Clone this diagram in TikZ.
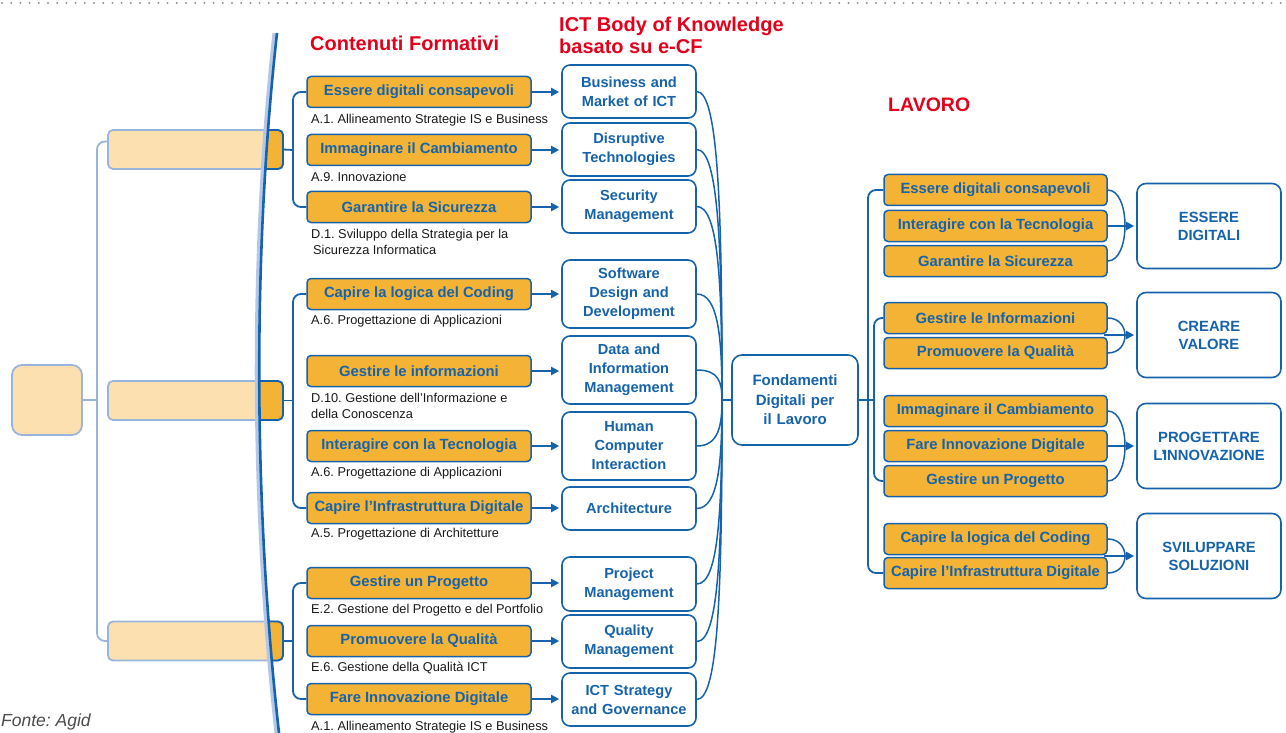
\documentclass[tikz,border=0pt]{standalone}
\usepackage{fontspec}
\setmainfont{Liberation Sans}
\usetikzlibrary{arrows.meta}
\definecolor{dblue}{HTML}{1663AB}
\definecolor{lblue}{HTML}{9BB4DB}
\definecolor{sblue}{HTML}{B3C8E8}
\definecolor{gold}{HTML}{F5B335}
\definecolor{cream}{HTML}{FDE0B0}
\definecolor{ired}{HTML}{E3001B}

\begin{document}
\frenchspacing
\begin{tikzpicture}[x=1pt, y=-1pt,
  link/.style={draw=dblue, line width=1.8pt},
  fan/.style={draw=dblue, line width=1.5pt},
  arr/.style={link, -{Triangle[length=8pt,width=8pt]}, shorten >=2pt},
  pale/.style={draw=lblue, line width=1.8pt},
  sect/.style={draw=lblue, fill=cream, line width=1.8pt, rounded corners=5pt, minimum width=175pt, minimum height=39pt, inner sep=0pt, outer sep=0pt},
  skill/.style={draw=dblue, fill=gold, line width=1.5pt, rounded corners=4pt, minimum width=224pt, minimum height=31pt, inner sep=0pt, text=dblue, font=\fontsize{14.8}{18}\selectfont\bfseries},
  know/.style={draw=dblue, fill=white, line width=1.6pt, rounded corners=8pt, minimum width=134pt, text width=128pt, inner sep=0pt, align=center, text=dblue, font=\fontsize{14.6}{19}\selectfont\bfseries},
  area/.style={draw=dblue, fill=white, line width=1.6pt, rounded corners=9pt, minimum width=144pt, minimum height=85pt, text width=138pt, inner sep=0pt, align=center, text=dblue, font=\fontsize{14.8}{18}\selectfont\bfseries},
  sub/.style={anchor=west, align=left, inner sep=0pt, text=black!90, font=\fontsize{12.8}{16}\selectfont},
  heading/.style={anchor=west, align=left, inner sep=0pt, text=ired, font=\fontsize{20}{22}\selectfont\bfseries}]
  \useasboundingbox (0,0) rectangle (1286,733);
  \draw[gray!85, line width=2.2pt, line cap=round, dash pattern=on 0pt off 9.2pt] (2,3) -- (1286,3);

  \node[heading] (h1) at (310,43) {Contenuti Formativi};
  \node[heading] (h2) at (559,35) {ICT Body of Knowledge\\basato su e-CF};
  \node[heading, font=\fontsize{19.5}{22}\selectfont\bfseries] (h3) at (888,105) {LAVORO};

  \node[draw=lblue, fill=cream, line width=1.8pt, rounded corners=10pt, minimum size=70pt] (root) at (47,400) {};
  \node[sect] (sec1) at (195.5,149.5) {};
  \node[sect] (sec2) at (195.5,400.5) {};
  \node[sect] (sec3) at (195.5,641) {};
  \coordinate (rj) at (97,400);
  \draw[pale] (root.east) -- (rj);
  \draw[pale, rounded corners=8pt] ([yshift=8pt]sec1.west) -| (rj) |- (sec3.west);

  \begin{scope}
    \clip (277,33) .. controls (253,250) and (253,500) .. (279,733) -- (300,733) -- (300,33) -- cycle;
    \foreach \s in {sec1,sec2,sec3}
      \draw[draw=dblue, fill=gold, line width=1.8pt, rounded corners=5pt] (\s.south west) rectangle (\s.north east);
  \end{scope}
  \draw[sblue, line width=4pt, xshift=-2.5pt] (277,33) .. controls (253,250) and (253,500) .. (279,733);
  \draw[dblue, line width=2.6pt] (277,33) .. controls (253,250) and (253,500) .. (279,733);

  \node[skill] (c1) at (419,92) {Essere digitali consapevoli};
  \node[skill] (c2) at (419,150) {Immaginare il Cambiamento};
  \node[skill] (c3) at (419,207) {Garantire la Sicurezza};
  \node[skill] (c4) at (419,294) {Capire la logica del Coding};
  \node[skill] (c5) at (419,371) {Gestire le informazioni};
  \node[skill] (c6) at (419,446) {Interagire con la Tecnologia};
  \node[skill] (c7) at (419,508) {Capire l’Infrastruttura Digitale};
  \node[skill] (c8) at (419,583) {Gestire un Progetto};
  \node[skill] (c9) at (419,641) {Promuovere la Qualità};
  \node[skill] (c10) at (419,699) {Fare Innovazione Digitale};

  \node[sub] (s1) at (311,120) {A.1. Allineamento Strategie IS e Business};
  \node[sub] (s2) at (311,177) {A.9. Innovazione};
  \node[sub] (s3) at (311,242) {D.1. Sviluppo della Strategia per la\\\hspace{2pt}Sicurezza Informatica};
  \node[sub] (s4) at (311,321) {A.6. Progettazione di Applicazioni};
  \node[sub] (s5) at (311,405.5) {D.10. Gestione dell’Informazione e\\della Conoscenza};
  \node[sub] (s6) at (311,473) {A.6. Progettazione di Applicazioni};
  \node[sub] (s7) at (311,534) {A.5. Progettazione di Architetture};
  \node[sub] (s8) at (311,610) {E.2. Gestione del Progetto e del Portfolio};
  \node[sub] (s9) at (311,668) {E.6. Gestione della Qualità ICT};
  \node[sub] (s10) at (311,727) {A.1. Allineamento Strategie IS e Business};

  \coordinate (g1) at (293,150);
  \coordinate (g2) at (293,400.5);
  \coordinate (g3) at (293,641);
  \draw[link] (sec1.east) -- (g1);
  \draw[link] (sec2.east) -- (g2);
  \draw[link] (sec3.east) -- (g3);
  \draw[link, rounded corners=8pt] (c1.west) -| (g1) |- (c3.west);
  \draw[link, rounded corners=8pt] (c4.west) -| (g2) |- (c7.west);
  \draw[link, rounded corners=8pt] (c8.west) -| (g3) |- (c10.west);

  \node[know, minimum height=53pt] (k1) at (629,91.5) {Business and\\Market of ICT};
  \node[know, minimum height=53pt] (k2) at (629,149.5) {Disruptive\\Technologies};
  \node[know, minimum height=53pt] (k3) at (629,206.5) {Security\\Management};
  \node[know, minimum height=68pt] (k4) at (629,294) {Software\\Design and\\Development};
  \node[know, minimum height=68pt] (k5) at (629,370) {Data and\\Information\\Management};
  \node[know, minimum height=68pt] (k6) at (629,446) {Human\\Computer\\Interaction};
  \node[know, minimum height=43pt] (k7) at (629,508.5) {Architecture};
  \node[know, minimum height=54pt] (k8) at (629,584) {Project\\Management};
  \node[know, minimum height=53pt] (k9) at (629,641.5) {Quality\\Management};
  \node[know, minimum height=53pt] (k10) at (629,699.5) {ICT Strategy\\and Governance};
  \foreach \i in {1,...,10}
    \draw[arr] (c\i.east) -- (c\i.east -| k\i.west);

  \node[know, minimum width=126pt, text width=120pt, minimum height=90pt, rounded corners=10pt, font=\fontsize{15}{19.5}\selectfont\bfseries] (fdl) at (795,400) {Fondamenti\\Digitali per\\il Lavoro};
  \coordinate (fj) at (722,400);
  \draw[link] (fj) -- (fdl.west);
  \foreach \i/\d in {1/185,2/150,3/115,4/60,5/18}
    \draw[fan] (k\i.east) .. controls +(22,0) and +(0,-\d) .. (fj);
  \foreach \i/\d in {6/25,7/60,8/110,9/150,10/185}
    \draw[fan] (k\i.east) .. controls +(22,0) and +(0,\d) .. (fj);

  \node[skill, minimum width=223pt] (r1) at (995.5,190) {Essere digitali consapevoli};
  \node[skill, minimum width=223pt] (r2) at (995.5,226) {Interagire con la Tecnologia};
  \node[skill, minimum width=223pt] (r3) at (995.5,261) {Garantire la Sicurezza};
  \node[skill, minimum width=223pt] (r4) at (995.5,318) {Gestire le Informazioni};
  \node[skill, minimum width=223pt] (r5) at (995.5,353) {Promuovere la Qualità};
  \node[skill, minimum width=223pt] (r6) at (995.5,411) {Immaginare il Cambiamento};
  \node[skill, minimum width=223pt] (r7) at (995.5,446) {Fare Innovazione Digitale};
  \node[skill, minimum width=223pt] (r8) at (995.5,481) {Gestire un Progetto};
  \node[skill, minimum width=223pt] (r9) at (995.5,539) {Capire la logica del Coding};
  \node[skill, minimum width=223pt] (r10) at (995.5,573) {Capire l’Infrastruttura Digitale};

  \coordinate (wo) at (868,400);
  \coordinate (wi) at (874,400);
  \draw[link] (fdl.east) -- (wi);
  \draw[link, rounded corners=8pt] (r1.west) -| (wo) |- (r10.west);
  \draw[link, rounded corners=8pt] (r4.west) -| (wi) |- (r8.west);

  \node[area] (a1) at (1209,226) {ESSERE\\DIGITALI};
  \node[area] (a2) at (1209,335) {CREARE\\VALORE};
  \node[area] (a3) at (1209,446) {PROGETTARE\\L’\kern-2.5pt INNOVAZIONE};
  \node[area] (a4) at (1209,556) {SVILUPPARE\\SOLUZIONI};

  \draw[fan] (r1.east) .. controls +(23,0) and +(23,0) .. (r3.east);
  \draw[fan] (r4.east) .. controls +(23,0) and +(23,0) .. (r5.east);
  \draw[fan] (r6.east) .. controls +(23,0) and +(23,0) .. (r8.east);
  \draw[fan] (r9.east) .. controls +(23,0) and +(23,0) .. (r10.east);
  \coordinate (b2) at (1104,335);
  \coordinate (b4) at (1104,556);
  \draw[arr] (r2.east) -- (a1.west);
  \draw[arr] (b2) -- (a2.west);
  \draw[arr] (r7.east) -- (a3.west);
  \draw[arr] (b4) -- (a4.west);

  \node[anchor=west, inner sep=0pt, text=black!70, font=\fontsize{17.5}{20}\selectfont\itshape] (src) at (1,722) {Fonte: Agid};
\end{tikzpicture}
\end{document}
